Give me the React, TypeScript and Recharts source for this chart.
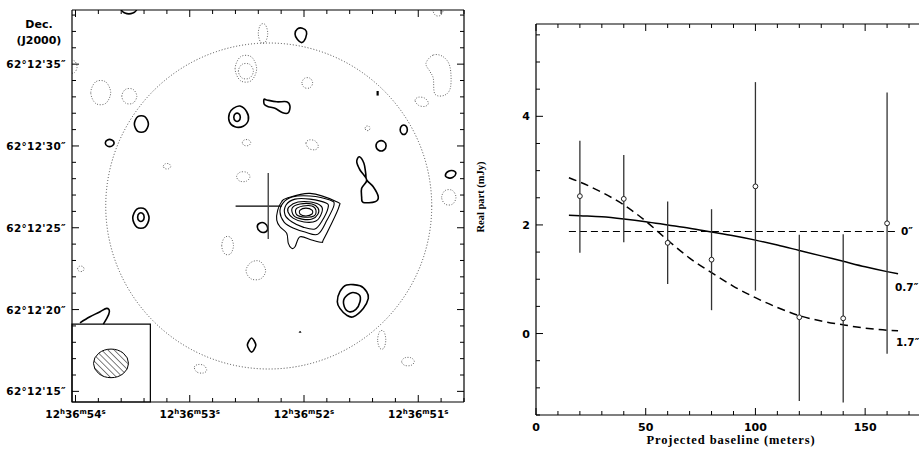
import React from 'react';
import { ComposedChart, Line, Scatter, XAxis, YAxis, ErrorBar, ReferenceLine, ReferenceDot, ReferenceArea } from 'recharts';

// ---- map panel: x = RA offset from 12h36m52s (arcsec on sky, east positive), y = Dec offset from 62°12'25" (arcsec)
const SEC = 6.998; // arcsec of sky per second of RA at dec 62.2
const raTicks = Array.from({ length: 18 }, (_, i) => (i - 7) * 0.2 * SEC);
const decTicks = [-10, -9, -8, -7, -6, -5, -4, -3, -2, -1, 0, 1, 2, 3, 4, 5, 6, 7, 8, 9, 10, 11, 12, 13];
const decLabelBase = 25; // arcsec of 62°12'

// positive contours (solid)
const positiveContours = [
  [[11.21, 13.41], [10.97, 13.7], [10.48, 13.7], [10.23, 13.41], [10.48, 13.12], [10.97, 13.12]],
  [[0.55, 11.85], [0.4, 12.15], [0.1, 12.2], [-0.15, 12.0], [-0.1, 11.6], [0.13, 11.32], [0.4, 11.5]],
  [[3.92, 7.44], [3.51, 7.09], [3.41, 6.58], [3.72, 6.21], [4.23, 6.17], [4.57, 6.48], [4.57, 6.99], [4.33, 7.3]],
  [[4.3, 6.75], [4.2, 6.97], [4.0, 6.97], [3.9, 6.75], [4.0, 6.53], [4.2, 6.53]],
  [[2.45, 7.85], [2.28, 7.81], [1.67, 7.7], [1.06, 7.7], [0.86, 7.44], [0.96, 7.03], [1.3, 7.03], [1.78, 7.3], [2.19, 7.4], [2.43, 7.54]],
  [[10.39, 6.34], [10.18, 6.79], [9.75, 6.79], [9.53, 6.34], [9.75, 5.89], [10.18, 5.89]],
  [[12.17, 5.18], [12.04, 5.37], [11.77, 5.37], [11.63, 5.18], [11.77, 4.99], [12.04, 4.99]],
  [[10.49, 0.59], [10.24, 1.14], [9.74, 1.14], [9.49, 0.59], [9.74, 0.04], [10.24, 0.04]],
  [[10.19, 0.65], [10.09, 0.88], [9.89, 0.88], [9.79, 0.65], [9.89, 0.42], [10.09, 0.42]],
  [[2.86, 0.05], [2.72, 0.28], [2.4, 0.27], [2.22, -0.03], [2.36, -0.26], [2.68, -0.24]],
  [[-2.61, -3.5], [-3.43, -3.55], [-3.84, -3.91], [-3.94, -4.32], [-3.63, -4.93], [-3.02, -5.44], [-2.61, -5.34], [-2.2, -4.93], [-2.04, -4.52], [-2.2, -3.91]],
  [[-2.92, -3.97], [-3.39, -4.11], [-3.43, -4.52], [-3.18, -4.99], [-2.77, -5.13], [-2.47, -4.83], [-2.47, -4.32]],
  [[-3.39, 4.34], [-3.67, 3.94], [-3.78, 3.33], [-3.84, 2.92], [-4.24, 2.51], [-4.55, 1.89], [-4.35, 1.59], [-3.63, 1.55], [-3.53, 1.89], [-3.53, 2.41], [-3.84, 2.92], [-3.43, 3.53], [-3.23, 4.03]],
  [[-4.41, 5.01], [-4.57, 5.28], [-4.88, 5.28], [-5.03, 5.01], [-4.88, 4.74], [-4.57, 4.74]],
  [[-5.89, 5.99], [-6.0, 6.24], [-6.22, 6.24], [-6.33, 5.99], [-6.22, 5.74], [-6.0, 5.74]],
  [[-8.66, 3.2], [-8.85, 3.45], [-9.15, 3.48], [-9.3, 3.3], [-9.1, 3.07], [-8.85, 3.05]],
  [[3.47, -7.17], [3.35, -6.88], [3.21, -6.74], [3.07, -6.88], [2.95, -7.17], [3.07, -7.46], [3.21, -7.6], [3.35, -7.46]],
];

// the source itself, outermost level first
const sourceContours = [
  [[1.06, 1.8], [-0.37, 2.1], [-2.0, 1.59], [-2.14, 1.28], [-1.59, 0.06], [-1.18, -0.75], [-1.08, -0.89], [-0.47, -0.75], [0.24, -0.55], [0.55, -1.16], [0.75, -1.26], [0.96, -0.95], [1.06, -0.34], [1.47, 0.06], [1.67, 0.47], [1.61, 1.08], [1.37, 1.59]],
  [[1.29, 1.51], [0.73, 1.88], [-0.37, 1.94], [-1.59, 1.69], [-1.84, 1.39], [-1.41, 0.47], [-0.86, -0.39], [-0.06, -0.26], [0.67, -0.02], [1.22, 0.35], [1.47, 0.96]],
  [[1.1, 1.39], [0.55, 1.75], [-0.37, 1.75], [-1.35, 1.51], [-1.47, 1.2], [-1.1, 0.41], [-0.67, -0.08], [0.06, 0.04], [0.73, 0.35], [1.16, 0.78]],
  [[0.92, 1.27], [0.37, 1.57], [-0.43, 1.57], [-1.04, 1.33], [-1.1, 0.96], [-0.73, 0.41], [0.0, 0.35], [0.67, 0.59], [0.98, 0.96]],
  [[0.73, 1.2], [0.24, 1.45], [-0.49, 1.45], [-0.86, 1.2], [-0.86, 0.84], [-0.49, 0.53], [0.12, 0.53], [0.61, 0.72]],
  [[0.49, 1.14], [0.06, 1.33], [-0.49, 1.33], [-0.73, 1.08], [-0.61, 0.72], [-0.06, 0.65], [0.43, 0.78]],
  [[0.24, 1.08], [-0.12, 1.2], [-0.49, 1.08], [-0.49, 0.84], [-0.12, 0.72], [0.24, 0.84]],
];

// contour cut by the beam box, and two tiny marks
const openContour = [[13.72, -5.81], [13.11, -5.44], [12.49, -5.13], [12.08, -4.93], [11.92, -5.13], [12.08, -5.54], [12.29, -5.89]];
const tinyMark = [[-4.51, 8.08], [-4.51, 8.36]];
const tinyTriangle = [[0.3, -6.4], [0.18, -6.4], [0.24, -6.31]];

// negative contours (dotted)
const negativeContours = [
  [[-7.9, 13.3], [-8.06, 13.62], [-8.36, 13.62], [-8.52, 13.3], [-8.36, 12.98], [-8.06, 12.98]],
  [[2.8, 11.88], [2.66, 12.41], [2.37, 12.41], [2.22, 11.88], [2.37, 11.35], [2.66, 11.35]],
  [[4.22, 9.72], [3.89, 10.45], [3.23, 10.45], [2.9, 9.72], [3.23, 8.99], [3.89, 8.99]],
  [[4.02, 9.57], [3.79, 9.99], [3.33, 9.99], [3.1, 9.57], [3.33, 9.15], [3.79, 9.15]],
  [[0.13, 8.85], [-0.04, 9.14], [-0.37, 9.14], [-0.53, 8.85], [-0.37, 8.56], [-0.04, 8.56]],
  [[13.06, 8.26], [12.76, 8.92], [12.15, 8.92], [11.84, 8.26], [12.15, 7.6], [12.76, 7.6]],
  [[11.16, 8.04], [10.93, 8.46], [10.47, 8.46], [10.24, 8.04], [10.47, 7.62], [10.93, 7.62]],
  [[-7.92, 10.56], [-8.53, 10.45], [-8.94, 9.84], [-8.98, 8.62], [-8.63, 8.11], [-8.02, 8.17], [-7.92, 9.13], [-7.72, 9.54], [-7.47, 10.05]],
  [[-6.8, 7.78], [-7.0, 7.98], [-7.4, 7.92], [-7.62, 7.62], [-7.42, 7.42], [-7.02, 7.48]],
  [[-3.74, 6.08], [-3.82, 6.21], [-3.97, 6.21], [-4.04, 6.08], [-3.97, 5.95], [-3.82, 5.95]],
  [[3.78, 5.2], [3.65, 5.37], [3.39, 5.37], [3.26, 5.2], [3.39, 5.03], [3.65, 5.03]],
  [[-0.12, 5.17], [-0.31, 5.37], [-0.69, 5.3], [-0.88, 4.97], [-0.69, 4.77], [-0.31, 4.84]],
  [[8.62, 3.76], [8.5, 3.91], [8.28, 3.91], [8.16, 3.76], [8.28, 3.61], [8.5, 3.61]],
  [[4.13, 3.12], [3.93, 3.39], [3.52, 3.39], [3.31, 3.12], [3.52, 2.85], [3.93, 2.85]],
  [[-8.43, 1.86], [-8.65, 2.28], [-9.09, 2.28], [-9.31, 1.86], [-9.09, 1.44], [-8.65, 1.44]],
  [[5.04, -1.09], [4.86, -0.59], [4.5, -0.59], [4.32, -1.09], [4.5, -1.59], [4.86, -1.59]],
  [[3.55, -2.62], [3.25, -2.12], [2.7, -2.05], [2.35, -2.62], [2.65, -3.12], [3.25, -3.12]],
  [[13.87, -2.51], [13.77, -2.36], [13.57, -2.36], [13.47, -2.51], [13.57, -2.66], [13.77, -2.66]],
  [[-4.51, -6.85], [-4.64, -6.34], [-4.89, -6.34], [-5.01, -6.85], [-4.89, -7.36], [-4.64, -7.36]],
  [[-5.98, -8.18], [-6.17, -7.95], [-6.56, -7.95], [-6.76, -8.18], [-6.56, -8.41], [-6.17, -8.41]],
  [[6.72, -8.52], [6.5, -8.36], [6.12, -8.42], [5.96, -8.72], [6.18, -8.88], [6.56, -8.82]],
  [[14.5, 9.84], [14.35, 10.19], [14.05, 10.19], [13.9, 9.84], [14.05, 9.49], [14.35, 9.49]],
];

const primaryBeam = { x: 2.16, y: 1.33 };
const crossH = [{ x: 4.19, y: 1.32 }, { x: 1.37, y: 1.32 }];
const crossV = [{ x: 2.19, y: 3.34 }, { x: 2.19, y: -0.69 }];
const beamPos = [{ x: 11.82, y: -8.29 }];

// ---- visibility panel
const baselines = [20, 40, 60, 80, 100, 120, 140, 160];
const realPart = [2.53, 2.48, 1.67, 1.36, 2.71, 0.3, 0.28, 2.03];
const errLow = [1.49, 1.68, 0.91, 0.43, 0.79, -1.24, -1.27, -0.37];
const errHigh = [3.55, 3.29, 2.43, 2.29, 4.63, 1.82, 1.83, 4.44];

const curveX = [15, 20, 30, 40, 50, 60, 70, 80, 90, 100, 110, 120, 130, 140, 150, 160, 165];
const model07 = [2.18, 2.17, 2.15, 2.11, 2.06, 2.0, 1.94, 1.87, 1.8, 1.72, 1.63, 1.53, 1.43, 1.33, 1.23, 1.14, 1.1];
const model17 = [2.87, 2.79, 2.6, 2.37, 2.07, 1.72, 1.39, 1.12, 0.87, 0.66, 0.48, 0.33, 0.23, 0.16, 0.1, 0.06, 0.05];
const pointX = [15, 165];
const pointModel = [1.88, 1.88];
const modelTags = ['0″', '0.7″', '1.7″'];

const blTicks = [0, 10, 20, 30, 40, 50, 60, 70, 80, 90, 100, 110, 120, 130, 140, 150, 160, 170];
const blLabels = [0, 50, 100, 150];
const reTicks = [-1.5, -1, -0.5, 0, 0.5, 1, 1.5, 2, 2.5, 3, 3.5, 4, 4.5, 5, 5.5];
const reLabels = [0, 2, 4];

const SANS = '"DejaVu Sans", sans-serif';
const SERIF = '"Liberation Serif", serif';

// Catmull-Rom closed spline, for contour loops
const closedSpline = (ctx: any) => {
  let pts: number[][] = [];
  return {
    areaStart() {},
    areaEnd() {},
    lineStart() { pts = []; },
    point(x: number, y: number) { pts.push([+x, +y]); },
    lineEnd() {
      const n = pts.length;
      if (n < 3) return;
      ctx.moveTo(pts[0][0], pts[0][1]);
      for (let i = 0; i < n; i++) {
        const a = pts[(i + n - 1) % n], b = pts[i], c = pts[(i + 1) % n], d = pts[(i + 2) % n];
        ctx.bezierCurveTo(b[0] + (c[0] - a[0]) / 6, b[1] + (c[1] - a[1]) / 6, c[0] - (d[0] - b[0]) / 6, c[1] - (d[1] - b[1]) / 6, c[0], c[1]);
      }
      ctx.closePath();
    },
  };
};

const toPts = (c: number[][]) => c.map(([x, y]) => ({ x, y }));

type Side = 'top' | 'bottom' | 'left' | 'right';
const inwardTick = (side: Side, isMajor: (v: number) => boolean, label?: (x: number, y: number, v: number) => React.ReactNode, long = 7, short = 4) =>
  (props: any) => {
    const { x, y, payload } = props;
    const v = payload.value;
    const big = isMajor(v);
    const len = big ? long : short;
    const dx = side === 'left' ? len : side === 'right' ? -len : 0;
    const dy = side === 'top' ? len : side === 'bottom' ? -len : 0;
    return (
      <g>
        <line x1={x} y1={y} x2={x + dx} y2={y + dy} stroke="#000" strokeWidth={1} />
        {big && label ? label(x, y, v) : null}
      </g>
    );
  };

const isWholeSecond = (v: number) => Math.abs(v / SEC - Math.round(v / SEC)) < 1e-6;
const isFiveArcsec = (v: number) => Math.round(v) % 5 === 0;

const raLabel = (x: number, y: number, v: number) => (
  <text x={x} y={y + 16} textAnchor="middle" fontFamily={SANS} fontWeight="bold" fontSize={10.5} fill="#000">
    12<tspan dy={-4} fontSize={7}>h</tspan><tspan dy={4}>36</tspan><tspan dy={-4} fontSize={7}>m</tspan><tspan dy={4}>{Math.round(52 + v / SEC)}</tspan><tspan dy={-4} fontSize={7}>s</tspan>
  </text>
);

const decLabel = (x: number, y: number, v: number) => (
  <text x={x - 6} y={y + 4} textAnchor="end" fontFamily={SANS} fontWeight="bold" fontSize={10.5} letterSpacing={0.3} fill="#000">
    {`62°12'${decLabelBase + Math.round(v)}″`}
  </text>
);

const blLabel = (x: number, y: number, v: number) => (
  <text x={x} y={y + 16} textAnchor="middle" fontFamily={SANS} fontWeight="bold" fontSize={11} fill="#000">{v}</text>
);
const reLabel = (x: number, y: number, v: number) => (
  <text x={x - 6} y={y + 4} textAnchor="end" fontFamily={SANS} fontWeight="bold" fontSize={11} fill="#000">{v}</text>
);

const BeamShape = (p: any) => (
  <g>
    <defs>
      <pattern id="beamHatch" patternUnits="userSpaceOnUse" width={4.4} height={4.4} patternTransform="rotate(-45)">
        <line x1={0} y1={0} x2={0} y2={4.4} stroke="#000" strokeWidth={1} />
      </pattern>
    </defs>
    <ellipse cx={p.cx} cy={p.cy} rx={17.5} ry={14.3} fill="url(#beamHatch)" stroke="#000" strokeWidth={1} />
  </g>
);

const axisLine = { stroke: '#000', strokeWidth: 1.2 };

function MapPanel() {
  const common = { xAxisId: 'b', yAxisId: 'l', dot: false, activeDot: false, isAnimationActive: false, legendType: 'none' as const };
  return (
    <ComposedChart width={470} height={449} margin={{ top: 0, right: 0, bottom: 0, left: 0 }}>
      <XAxis xAxisId="b" dataKey="x" type="number" domain={[-9.8, 14.21]} reversed allowDataOverflow ticks={raTicks} interval={0}
        tickSize={0} tickMargin={0} height={47} axisLine={axisLine} tickLine={false} tick={inwardTick('bottom', isWholeSecond, raLabel)} />
      <XAxis xAxisId="t" orientation="top" dataKey="x" type="number" domain={[-9.8, 14.21]} reversed allowDataOverflow ticks={raTicks} interval={0}
        tickSize={0} tickMargin={0} height={10} axisLine={axisLine} tickLine={false} tick={inwardTick('top', isWholeSecond)} />
      <YAxis yAxisId="l" dataKey="y" type="number" domain={[-10.65, 13.31]} allowDataOverflow ticks={decTicks} interval={0}
        tickSize={0} tickMargin={0} width={72} axisLine={axisLine} tickLine={false} tick={inwardTick('left', isFiveArcsec, decLabel)} />
      <YAxis yAxisId="r" orientation="right" dataKey="y" type="number" domain={[-10.65, 13.31]} allowDataOverflow ticks={decTicks} interval={0}
        tickSize={0} tickMargin={0} width={6} axisLine={axisLine} tickLine={false} tick={inwardTick('right', isFiveArcsec)} />

      <ReferenceDot xAxisId="b" yAxisId="l" x={primaryBeam.x} y={primaryBeam.y} r={163} fill="none" stroke="#333" strokeWidth={0.9} strokeDasharray="1 2" ifOverflow="visible" />

      {negativeContours.map((c, i) => (
        <Line key={`n${i}`} {...common} data={toPts(c)} dataKey="y" type={closedSpline as any} stroke="#666" strokeWidth={1} strokeDasharray="1 1.6" />
      ))}
      {positiveContours.map((c, i) => (
        <Line key={`p${i}`} {...common} data={toPts(c)} dataKey="y" type={closedSpline as any} stroke="#000" strokeWidth={1.6} />
      ))}
      {sourceContours.map((c, i) => (
        <Line key={`s${i}`} {...common} data={toPts(c)} dataKey="y" type={closedSpline as any} stroke="#000" strokeWidth={1.1} />
      ))}
      <Line {...common} data={toPts(openContour)} dataKey="y" type="natural" stroke="#000" strokeWidth={1.6} />
      <Line {...common} data={toPts(tinyMark)} dataKey="y" type="linear" stroke="#000" strokeWidth={2.2} />
      <Line {...common} data={toPts(tinyTriangle)} dataKey="y" type="linearClosed" stroke="#000" strokeWidth={0.7} />

      <ReferenceLine xAxisId="b" yAxisId="l" segment={crossH} stroke="#000" strokeWidth={1.2} ifOverflow="visible" />
      <ReferenceLine xAxisId="b" yAxisId="l" segment={crossV} stroke="#444" strokeWidth={1.4} ifOverflow="visible" />

      <ReferenceArea xAxisId="b" yAxisId="l" x1={9.41} x2={14.21} y1={-10.65} y2={-5.89} fill="#fff" fillOpacity={1} stroke="#000" strokeWidth={1.2} ifOverflow="visible" />
      <Scatter xAxisId="b" yAxisId="l" data={beamPos} shape={BeamShape} isAnimationActive={false} legendType="none" />
    </ComposedChart>
  );
}

function VisPanel() {
  const vis = baselines.map((b, i) => ({ x: b, y: realPart[i], err: [realPart[i] - errLow[i], errHigh[i] - realPart[i]] }));
  const curves = curveX.map((x, i) => ({ x, mid: model07[i], wide: model17[i] }));
  const flat = pointX.map((x, i) => ({ x, flat: pointModel[i] }));
  const last = curveX.length - 1;
  const tags = [
    { x: pointX[1], y: pointModel[1], tag: modelTags[0], dx: 3, dy: 4 },
    { x: curveX[last], y: model07[last], tag: modelTags[1], dx: -3, dy: 17 },
    { x: curveX[last], y: model17[last], tag: modelTags[2], dx: -2, dy: 15 },
  ];
  const common = { xAxisId: 'b', yAxisId: 'l', dot: false, activeDot: false, isAnimationActive: false, legendType: 'none' as const };
  return (
    <ComposedChart width={450} height={449} margin={{ top: 0, right: 0, bottom: 0, left: 0 }}>
      <XAxis xAxisId="b" dataKey="x" type="number" domain={[0, 175]} allowDataOverflow ticks={blTicks} interval={0}
        tickSize={0} tickMargin={0} height={34} axisLine={axisLine} tickLine={false} tick={inwardTick('bottom', (v) => blLabels.includes(v), blLabel)} />
      <XAxis xAxisId="t" orientation="top" dataKey="x" type="number" domain={[0, 175]} allowDataOverflow ticks={blTicks} interval={0}
        tickSize={0} tickMargin={0} height={24} axisLine={axisLine} tickLine={false} tick={inwardTick('top', (v) => blLabels.includes(v))} />
      <YAxis yAxisId="l" dataKey="y" type="number" domain={[-1.5, 5.7]} allowDataOverflow ticks={reTicks} interval={0}
        tickSize={0} tickMargin={0} width={66} axisLine={axisLine} tickLine={false} tick={inwardTick('left', (v) => reLabels.includes(v), reLabel)} />

      <Line {...common} data={flat} dataKey="flat" type="linear" stroke="#000" strokeWidth={1.1} strokeDasharray="7 4" />
      <Line {...common} data={curves} dataKey="mid" type="monotone" stroke="#000" strokeWidth={1.5} />
      <Line {...common} data={curves} dataKey="wide" type="monotone" stroke="#000" strokeWidth={1.5} strokeDasharray="8 5" />

      <Scatter xAxisId="b" yAxisId="l" data={vis} isAnimationActive={false} legendType="none"
        shape={(p: any) => <circle cx={p.cx} cy={p.cy} r={2.4} fill="#fff" stroke="#222" strokeWidth={1} />}>
        <ErrorBar dataKey="err" direction="y" width={0} stroke="#333" strokeWidth={1.3} isAnimationActive={false} />
      </Scatter>
      <Scatter xAxisId="b" yAxisId="l" data={tags} isAnimationActive={false} legendType="none"
        shape={(p: any) => (
          <text x={p.cx + p.payload.dx} y={p.cy + p.payload.dy} fontFamily={SANS} fontWeight="bold" fontSize={10.5} fill="#000">{p.payload.tag}</text>
        )} />
    </ComposedChart>
  );
}

export default function App() {
  return (
    <div style={{ position: 'absolute', left: 0, top: 0, width: 919, height: 449, overflow: 'hidden', background: '#fff' }}>
      <div style={{ position: 'absolute', left: 0, top: 0 }}>
        <MapPanel />
      </div>
      <div style={{ position: 'absolute', left: 470, top: 0 }}>
        <VisPanel />
      </div>
      <svg width={919} height={449} style={{ position: 'absolute', left: 0, top: 0, pointerEvents: 'none' }}>
        <text x={39} y={28} textAnchor="middle" fontFamily={SANS} fontWeight="bold" fontSize={11} fill="#000">Dec.</text>
        <text x={39} y={44} textAnchor="middle" fontFamily={SANS} fontWeight="bold" fontSize={11} fill="#000">(J2000)</text>
        <text x={484} y={197} transform="rotate(-90 484 197)" textAnchor="middle" fontFamily={SERIF} fontWeight="bold" fontSize={10.5} fill="#000">Real part (mJy)</text>
        <text x={731} y={444} textAnchor="middle" fontFamily={SERIF} fontWeight="bold" fontSize={12.5} letterSpacing={0.9} fill="#000">Projected baseline (meters)</text>
      </svg>
    </div>
  );
}
